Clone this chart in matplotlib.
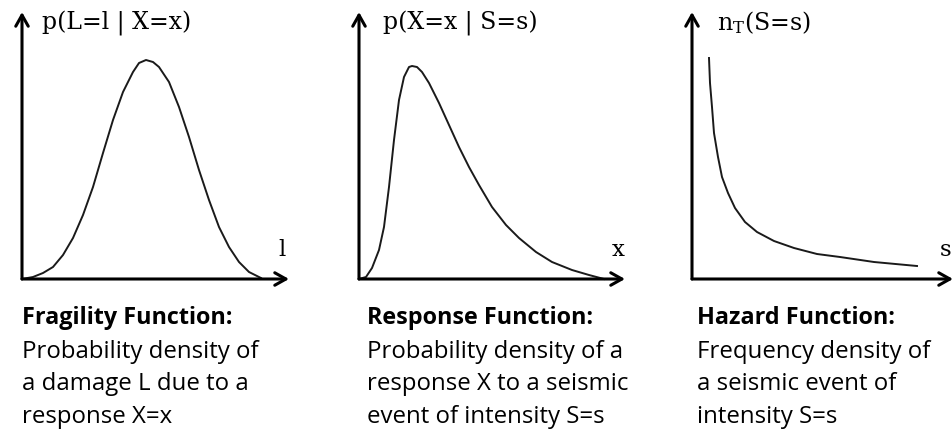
import matplotlib.pyplot as plt

W, H = 953, 432

# fragility curve p(L=l | X=x), local units
l_vals = [0, 11, 21, 31, 41, 51, 61, 71, 81, 91, 101, 111, 117, 124, 131, 137,
          147, 157, 167, 177, 187, 197, 207, 217, 227, 239]
p_l = [0, 2, 6, 12, 24, 41, 64, 92, 126, 159, 187, 207, 216, 219, 217, 212,
       197, 172, 142, 109, 79, 52, 32, 17, 7, 1]

# response curve p(X=x | S=s)
x_vals = [0, 7, 13, 20, 25, 30, 35, 40, 45, 50, 53, 58, 63, 70, 80, 90, 100,
          110, 120, 133, 147, 160, 177, 193, 213, 230, 245]
p_x = [0, 2, 11, 29, 52, 92, 139, 179, 202, 212, 213, 212, 207, 196, 176, 154,
       132, 112, 94, 72, 54, 41, 27, 17, 9, 4, 0]

# hazard curve n_T(S=s)
s_vals = [17, 18, 20, 22, 26, 30, 36, 43, 53, 65, 82, 102, 125, 148, 182, 225]
n_s = [221, 196, 172, 146, 122, 102, 86, 71, 57, 47, 38, 31, 25, 22, 17, 13]

panels = [
    # origin x, arrow tip x, curve, axis letter
    (22, 289, l_vals, p_l, "l"),
    (359, 625, x_vals, p_x, "x"),
    (692, 953, s_vals, n_s, "s"),
]
y0, ytop = 279, 12

labels = ["p(L=l | X=x)", "p(X=x | S=s)", r"$\mathrm{n_T}$(S=s)"]
label_x = [42, 383, 717]

titles = ["Fragility Function:", "Response Function:", "Hazard Function:"]
descs = [
    ["Probability density of", "a damage L due to a", "response X=x"],
    ["Probability density of a", "response X to a seismic", "event of intensity S=s"],
    ["Frequency density of", "a seismic event of", "intensity S=s"],
]
text_x = [22, 367, 697]

plt.rcParams["mathtext.fontset"] = "custom"
plt.rcParams["mathtext.rm"] = "DejaVu Serif"

fig = plt.figure(figsize=(W / 100, H / 100), dpi=100)
fig.patch.set_facecolor("white")

serif = ["DejaVu Serif"]
sans = ["Open Sans", "DejaVu Sans"]
arrow = dict(arrowstyle="->,head_length=0.8,head_width=0.45", lw=2.2,
             color="black", shrinkA=0, shrinkB=0)

for ox, tip, xs, ys, letter in panels:
    w = tip - ox
    h = y0 - ytop
    ax = fig.add_axes([ox / W, (H - y0) / H, w / W, h / H])
    ax.set_xlim(0, w)
    ax.set_ylim(0, h)
    ax.axis("off")
    ax.plot(xs, ys, color="#1a1a1a", lw=1.4, clip_on=False)
    ax.annotate("", xy=(w, 0), xytext=(0, 0), arrowprops=arrow, annotation_clip=False)
    ax.annotate("", xy=(0, h), xytext=(0, 0), arrowprops=arrow, annotation_clip=False)
    ax.text(w - 7, 29, letter, fontsize=16.5, family=serif, ha="center", va="center")

for lx, lab in zip(label_x, labels):
    fig.text(lx / W, 1 - 30 / H, lab, fontsize=17, family=serif, va="baseline")

# descriptions below
for tx, title, lines in zip(text_x, titles, descs):
    fig.text(tx / W, 1 - 324 / H, title, fontsize=16.8, family=sans, weight="bold", va="baseline")
    for i, line in enumerate(lines):
        fig.text(tx / W, 1 - (358 + 32.5 * i) / H, line, fontsize=17.3, family=sans, va="baseline")

fig.savefig("out.png", dpi=100)
